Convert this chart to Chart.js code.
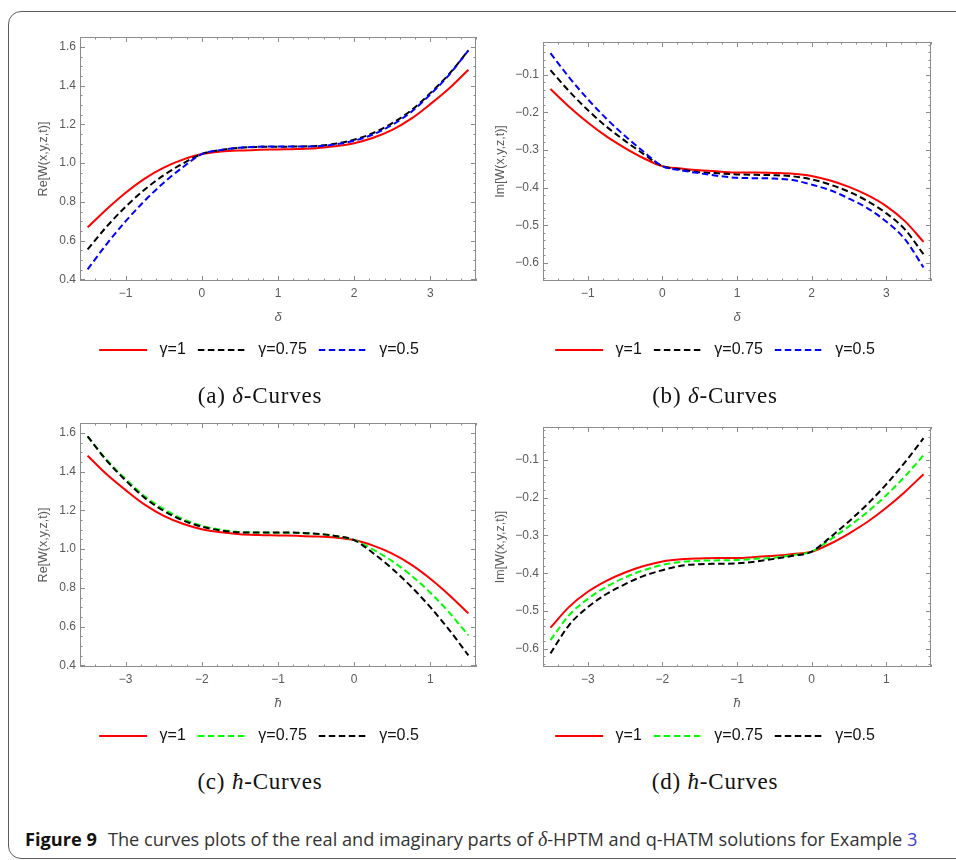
<!DOCTYPE html>
<html lang="en">
<head>
<meta charset="UTF-8">
<title>Figure 9 - curves plots</title>
<script src="https://cdn.jsdelivr.net/npm/chart.js"></script>
<style>
  body { margin: 0; background: #fff; width: 956px; height: 860px; overflow: hidden; position: relative; font-family: 'Liberation Sans', Arial, sans-serif; }
  .frame { position: absolute; left: 8px; top: 11px; width: 962px; height: 848px; border: 1.5px solid #5c5c5c; border-radius: 13px; box-sizing: border-box; }
  .panel { position: absolute; width: 478px; height: 368px; }
  .sub { position: absolute; font-family: 'Liberation Serif', serif; font-size: 23px; line-height: 23px; letter-spacing: 0.8px; color: #111; transform: translateX(-50%); white-space: nowrap; }
  .caption { position: absolute; left: 25px; top: 830px; font-family: 'Open Sans', sans-serif; font-size: 18.2px; line-height: 18px; color: #333; white-space: nowrap; }
  .caption b { color: #111; }
  .caption .ref { color: #3d3dd8; }
</style>
</head>
<body>
<div class="frame"></div>

<div class="panel" style="left:0;top:0"><canvas id="chartA"></canvas></div>
<div class="panel" style="left:478px;top:0"><canvas id="chartB"></canvas></div>
<div class="panel" style="left:0;top:386px"><canvas id="chartC"></canvas></div>
<div class="panel" style="left:478px;top:386px"><canvas id="chartD"></canvas></div>

<div class="sub" style="left:260px;top:384px">(a) <i>δ</i>-Curves</div>
<div class="sub" style="left:715px;top:384px">(b) <i>δ</i>-Curves</div>
<div class="sub" style="left:260px;top:770px">(c) <i>ħ</i>-Curves</div>
<div class="sub" style="left:715px;top:770px">(d) <i>ħ</i>-Curves</div>

<div class="caption"><b>Figure 9</b><span style="margin-left:11px">The curves plots of the real and imaginary parts of <i style="font-family:'Liberation Serif',serif;font-size:20px">δ</i>-HPTM and q-HATM solutions for Example <span class="ref">3</span></span></div>

<script>
// sample points along each axis
const deltaPts = [-1.5, -1.25, -1, -0.75, -0.5, -0.25, 0, 0.25, 0.5, 0.75, 1, 1.25, 1.5, 1.75, 2, 2.25, 2.5, 2.75, 3, 3.25, 3.5];
const hbarPts = [-3.5, -3.25, -3, -2.75, -2.5, -2.25, -2, -1.75, -1.5, -1.25, -1, -0.75, -0.5, -0.25, 0, 0.25, 0.5, 0.75, 1, 1.25, 1.5];

// (a) Re[W] vs delta
const reA_g1   = [0.668, 0.762, 0.847, 0.920, 0.977, 1.018, 1.047, 1.060, 1.066, 1.069, 1.071, 1.073, 1.077, 1.087, 1.103, 1.131, 1.172, 1.230, 1.305, 1.387, 1.483];
const reA_g075 = [0.554, 0.672, 0.775, 0.864, 0.938, 0.998, 1.047, 1.068, 1.079, 1.084, 1.085, 1.086, 1.089, 1.100, 1.121, 1.156, 1.207, 1.273, 1.362, 1.462, 1.583];
const reA_g05  = [0.451, 0.582, 0.700, 0.806, 0.899, 0.979, 1.047, 1.068, 1.080, 1.085, 1.086, 1.086, 1.087, 1.097, 1.116, 1.149, 1.198, 1.265, 1.355, 1.458, 1.583];

// (b) Im[W] vs delta
const imB_g1   = [-0.138, -0.185, -0.227, -0.264, -0.295, -0.322, -0.343, -0.349, -0.354, -0.357, -0.360, -0.360, -0.361, -0.363, -0.369, -0.381, -0.398, -0.420, -0.449, -0.489, -0.544];
const imB_g075 = [-0.088, -0.144, -0.194, -0.238, -0.276, -0.311, -0.343, -0.352, -0.359, -0.362, -0.365, -0.366, -0.367, -0.370, -0.378, -0.392, -0.411, -0.436, -0.468, -0.511, -0.577];
const imB_g05  = [-0.043, -0.107, -0.165, -0.217, -0.263, -0.305, -0.343, -0.354, -0.362, -0.369, -0.374, -0.375, -0.376, -0.380, -0.392, -0.407, -0.429, -0.455, -0.490, -0.537, -0.612];

// (c) Re[W] vs hbar
const reC_g1   = [1.483, 1.387, 1.305, 1.230, 1.172, 1.131, 1.103, 1.087, 1.077, 1.073, 1.071, 1.069, 1.066, 1.060, 1.047, 1.018, 0.977, 0.920, 0.847, 0.762, 0.668];
const reC_g075 = [1.583, 1.462, 1.362, 1.273, 1.207, 1.156, 1.121, 1.100, 1.089, 1.086, 1.085, 1.084, 1.079, 1.068, 1.047, 0.998, 0.938, 0.864, 0.775, 0.672, 0.554];
const reC_g05  = [1.583, 1.458, 1.355, 1.265, 1.198, 1.149, 1.116, 1.097, 1.087, 1.086, 1.086, 1.085, 1.080, 1.068, 1.047, 0.979, 0.899, 0.806, 0.700, 0.582, 0.451];

// (d) Im[W] vs hbar
const imD_g1   = [-0.544, -0.489, -0.449, -0.420, -0.398, -0.381, -0.369, -0.363, -0.361, -0.360, -0.360, -0.357, -0.354, -0.349, -0.343, -0.322, -0.295, -0.264, -0.227, -0.185, -0.138];
const imD_g075 = [-0.577, -0.511, -0.468, -0.436, -0.411, -0.392, -0.378, -0.370, -0.367, -0.366, -0.365, -0.362, -0.359, -0.352, -0.343, -0.311, -0.276, -0.238, -0.194, -0.144, -0.088];
const imD_g05  = [-0.612, -0.537, -0.490, -0.455, -0.429, -0.407, -0.392, -0.380, -0.376, -0.375, -0.374, -0.369, -0.362, -0.354, -0.343, -0.305, -0.263, -0.217, -0.165, -0.107, -0.043];

// tick labels
const deltaTicks = [-1, 0, 1, 2, 3];
const hbarTicks = [-3, -2, -1, 0, 1];
const reTicks = [0.4, 0.6, 0.8, 1.0, 1.2, 1.4, 1.6];
const imTicks = [-0.6, -0.5, -0.4, -0.3, -0.2, -0.1];

const gammaLabels = ['γ=1', 'γ=0.75', 'γ=0.5'];

Chart.defaults.font.family = "'Liberation Sans', Arial, sans-serif";
Chart.defaults.devicePixelRatio = 1;

const minus = s => s.replace('-', '\u2212');

// Mathematica style frame: box plus inward ticks on all four sides
const frameTicks = {
  id: 'frameTicks',
  afterDatasetsDraw(chart, args, o) {
    const {ctx, chartArea: a} = chart;
    const xs = chart.scales.x, ys = chart.scales.y;
    const marks = (scale, step) => {
      const majors = scale.ticks.map(t => t.value);
      const out = [];
      for (let i = Math.ceil(scale.min / step - 1e-6); i * step <= scale.max + 1e-9; i++) {
        const v = i * step;
        const major = majors.some(m => Math.abs(m - v) < step / 10);
        out.push([Math.round(scale.getPixelForValue(v)) + 0.5, major ? o.major : o.minor]);
      }
      return out;
    };
    ctx.save();
    ctx.strokeStyle = o.color;
    ctx.lineWidth = 1;
    ctx.setLineDash([]);
    ctx.strokeRect(Math.round(a.left) + 0.5, Math.round(a.top) + 0.5, Math.round(a.width) - 1, Math.round(a.height) - 1);
    ctx.beginPath();
    marks(xs, o.xStep).forEach(([px, len]) => {
      ctx.moveTo(px, a.bottom); ctx.lineTo(px, a.bottom - len);
      ctx.moveTo(px, a.top); ctx.lineTo(px, a.top + len);
    });
    marks(ys, o.yStep).forEach(([py, len]) => {
      ctx.moveTo(a.left, py); ctx.lineTo(a.left + len, py);
      ctx.moveTo(a.right, py); ctx.lineTo(a.right - len, py);
    });
    ctx.stroke();
    ctx.restore();
  }
};

// put the legend row where the original figure has it
const legendCenter = {
  id: 'legendCenter',
  afterLayout(chart, args, o) {
    const lg = chart.legend;
    if (!lg || o.x == null) return;
    const half = (lg.right - lg.left) / 2;
    lg.left = o.x - half;
    lg.right = o.x + half;
  }
};

function series(xs, ys, label, color, dash, order) {
  return {
    label: label,
    data: xs.map((x, i) => ({x: x, y: ys[i]})),
    borderColor: color,
    backgroundColor: color,
    borderWidth: 2,
    borderDash: dash,
    pointRadius: 0,
    cubicInterpolationMode: 'monotone',
    order: order
  };
}

function makeChart(id, c) {
  const tickColor = '#5a5a5a';
  new Chart(document.getElementById(id), {
    type: 'line',
    data: {
      datasets: c.lines.map((l, i) => series(c.xs, l.ys, gammaLabels[i], l.color, l.dash, 3 - i))
    },
    plugins: [frameTicks, legendCenter],
    options: {
      animation: false,
      responsive: true,
      maintainAspectRatio: false,
      layout: { padding: c.padding },
      scales: {
        x: {
          type: 'linear',
          min: c.xMin, max: c.xMax,
          afterBuildTicks: s => { s.ticks = c.xTicks.map(v => ({value: v})); },
          afterFit: s => { s.height = 49; },
          grid: { display: false, drawTicks: false },
          border: { display: false },
          ticks: { autoSkip: false, maxRotation: 0, padding: 5, color: tickColor, font: { size: 12 }, callback: v => minus(String(v)) },
          title: { display: true, text: c.xTitle, color: tickColor, font: { size: 13, style: 'italic' }, padding: { top: 0, bottom: 5 } }
        },
        y: {
          min: c.yMin, max: c.yMax,
          afterBuildTicks: s => { s.ticks = c.yTicks.map(v => ({value: v})); },
          afterFit: s => { s.width = c.yWidth; },
          grid: { display: false, drawTicks: false },
          border: { display: false },
          ticks: { autoSkip: false, padding: 4, color: tickColor, font: { size: 12 }, callback: v => minus(v.toFixed(1)) },
          title: { display: true, text: c.yTitle, color: tickColor, font: { size: 12.5 }, padding: { top: c.yTitlePad, bottom: 0 } }
        }
      },
      plugins: {
        tooltip: { enabled: false },
        legend: {
          position: 'bottom',
          labels: {
            usePointStyle: true,
            pointStyle: 'line',
            pointStyleWidth: 48,
            padding: 12,
            color: '#111',
            font: { size: 16 },
            sort: (a, b) => a.datasetIndex - b.datasetIndex,
            // with point style the default label takes the point's look, so copy the line's dash back in
            generateLabels: chart => Chart.defaults.plugins.legend.labels.generateLabels(chart).map(item => {
              const ds = chart.data.datasets[item.datasetIndex];
              return Object.assign(item, { text: ' ' + item.text, lineDash: ds.borderDash, lineWidth: 2, strokeStyle: ds.borderColor });
            })
          }
        },
        legendCenter: { x: c.legendX },
        frameTicks: { color: '#8c8c8c', major: 5, minor: 2.5, xStep: 0.2, yStep: c.yStep }
      }
    }
  });
}

makeChart('chartA', {
  xs: deltaPts, xMin: -1.6, xMax: 3.6, yMin: 0.391, yMax: 1.652,
  xTicks: deltaTicks, yTicks: reTicks, yStep: 0.05,
  xTitle: 'δ', yTitle: 'Re[W(x,y,z,t)]',
  padding: { left: 20, right: 2, top: 37, bottom: 0 }, yWidth: 60, yTitlePad: 16, legendX: 259,
  lines: [
    { ys: reA_g1, color: '#ff0000', dash: [] },
    { ys: reA_g075, color: '#000000', dash: [6.5, 3.5] },
    { ys: reA_g05, color: '#0000ff', dash: [6.5, 3.5] }
  ]
});

makeChart('chartB', {
  xs: deltaPts, xMin: -1.6, xMax: 3.6, yMin: -0.648, yMax: -0.0133,
  xTicks: deltaTicks, yTicks: imTicks, yStep: 0.02,
  xTitle: 'δ', yTitle: 'Im[W(x,y,z,t)]',
  padding: { left: 5, right: 25, top: 42, bottom: 0 }, yWidth: 60, yTitlePad: 10.5, legendX: 237,
  lines: [
    { ys: imB_g1, color: '#ff0000', dash: [] },
    { ys: imB_g075, color: '#000000', dash: [6.5, 3.5] },
    { ys: imB_g05, color: '#0000ff', dash: [6.5, 3.5] }
  ]
});

makeChart('chartC', {
  xs: hbarPts, xMin: -3.6, xMax: 1.6, yMin: 0.391, yMax: 1.652,
  xTicks: hbarTicks, yTicks: reTicks, yStep: 0.05,
  xTitle: 'ħ', yTitle: 'Re[W(x,y,z,t)]',
  padding: { left: 20, right: 2, top: 37, bottom: 0 }, yWidth: 60, yTitlePad: 16, legendX: 259,
  lines: [
    { ys: reC_g1, color: '#ff0000', dash: [] },
    { ys: reC_g075, color: '#00ff00', dash: [6.5, 3.5] },
    { ys: reC_g05, color: '#000000', dash: [6.5, 3.5] }
  ]
});

makeChart('chartD', {
  xs: hbarPts, xMin: -3.6, xMax: 1.6, yMin: -0.648, yMax: -0.0133,
  xTicks: hbarTicks, yTicks: imTicks, yStep: 0.02,
  xTitle: 'ħ', yTitle: 'Im[W(x,y,z,t)]',
  padding: { left: 5, right: 25, top: 41, bottom: 0 }, yWidth: 60, yTitlePad: 10.5, legendX: 237,
  lines: [
    { ys: imD_g1, color: '#ff0000', dash: [] },
    { ys: imD_g075, color: '#00ff00', dash: [6.5, 3.5] },
    { ys: imD_g05, color: '#000000', dash: [6.5, 3.5] }
  ]
});
</script>
</body>
</html>
